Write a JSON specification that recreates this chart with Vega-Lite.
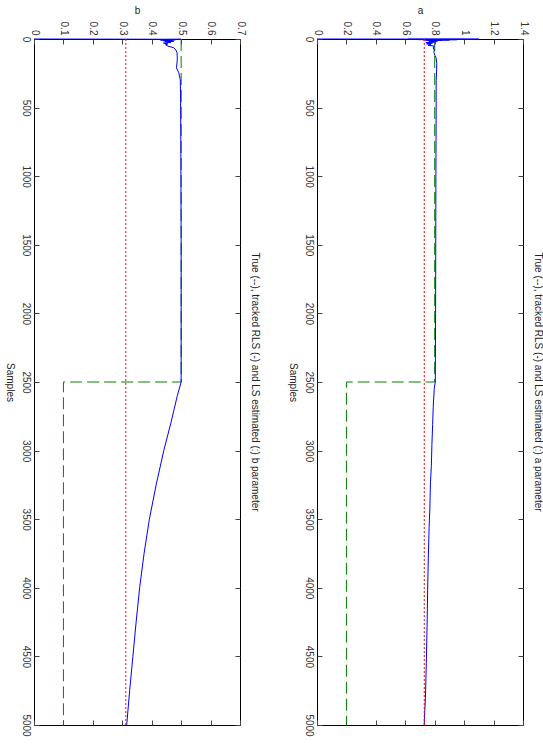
{
  "$schema": "https://vega.github.io/schema/vega-lite/v6.json",
  "background": "white",
  "padding": {"left": 3, "top": 4, "right": 0, "bottom": 0},
  "spacing": 25,
  "config": {
    "font": "Liberation Sans",
    "view": {"stroke": "#000000", "strokeWidth": 1},
    "axis": {
      "labelFont": "Liberation Sans", "labelFontSize": 10, "labelColor": "#333333",
      "titleFont": "Liberation Sans", "titleFontSize": 10, "titleFontWeight": "normal", "titleColor": "#222222",
      "grid": false, "domain": false, "tickColor": "#444444", "tickSize": -5, "labelPadding": 9,
      "labelFlush": false, "labelOverlap": false
    },
    "title": {"font": "Liberation Sans", "fontSize": 10, "fontWeight": "normal", "color": "#222222"}
  },
  "datasets": {
    "b_true": [{"order":0,"sample":0,"value":0.5},{"order":1,"sample":2500,"value":0.5},{"order":2,"sample":2500,"value":0.1},{"order":3,"sample":5000,"value":0.1}],
    "b_ls": [{"order":0,"sample":0,"value":0.312},{"order":1,"sample":5000,"value":0.312}],
    "b_rls": [
      {"order":0,"sample":0,"value":0},{"order":1,"sample":2,"value":0.5},{"order":2,"sample":4,"value":0.44},{"order":3,"sample":6,"value":0.48},
      {"order":4,"sample":8,"value":0.43},{"order":5,"sample":10,"value":0.47},{"order":6,"sample":13,"value":0.44},{"order":7,"sample":16,"value":0.475},
      {"order":8,"sample":20,"value":0.445},{"order":9,"sample":25,"value":0.465},{"order":10,"sample":30,"value":0.44},{"order":11,"sample":36,"value":0.455},
      {"order":12,"sample":42,"value":0.447},{"order":13,"sample":52,"value":0.455},{"order":14,"sample":64,"value":0.475},{"order":15,"sample":80,"value":0.482},
      {"order":16,"sample":100,"value":0.486},{"order":17,"sample":140,"value":0.487},{"order":18,"sample":175,"value":0.486},{"order":19,"sample":210,"value":0.484},
      {"order":20,"sample":246,"value":0.492},{"order":21,"sample":295,"value":0.497},{"order":22,"sample":400,"value":0.498},{"order":23,"sample":800,"value":0.499},
      {"order":24,"sample":1500,"value":0.5},{"order":25,"sample":2500,"value":0.5},{"order":26,"sample":2600,"value":0.487},{"order":27,"sample":2700,"value":0.476},
      {"order":28,"sample":2800,"value":0.465},{"order":29,"sample":3000,"value":0.441},{"order":30,"sample":3250,"value":0.415},{"order":31,"sample":3500,"value":0.392},
      {"order":32,"sample":3750,"value":0.374},{"order":33,"sample":4000,"value":0.359},{"order":34,"sample":4250,"value":0.347},{"order":35,"sample":4500,"value":0.336},
      {"order":36,"sample":4750,"value":0.325},{"order":37,"sample":5000,"value":0.315}
    ],
    "a_true": [{"order":0,"sample":0,"value":0.8},{"order":1,"sample":2500,"value":0.8},{"order":2,"sample":2500,"value":0.2},{"order":3,"sample":5000,"value":0.2}],
    "a_ls": [{"order":0,"sample":0,"value":0.729},{"order":1,"sample":5000,"value":0.729}],
    "a_rls": [
      {"order":0,"sample":0,"value":0},{"order":1,"sample":1,"value":1.1},{"order":2,"sample":2,"value":0.62},{"order":3,"sample":3,"value":1.0},
      {"order":4,"sample":4,"value":0.68},{"order":5,"sample":5,"value":0.95},{"order":6,"sample":6,"value":0.72},{"order":7,"sample":7,"value":0.9},
      {"order":8,"sample":8,"value":0.74},{"order":9,"sample":10,"value":0.85},{"order":10,"sample":12,"value":0.77},{"order":11,"sample":15,"value":0.82},
      {"order":12,"sample":18,"value":0.76},{"order":13,"sample":22,"value":0.8},{"order":14,"sample":26,"value":0.74},{"order":15,"sample":30,"value":0.785},
      {"order":16,"sample":35,"value":0.745},{"order":17,"sample":40,"value":0.775},{"order":18,"sample":46,"value":0.755},{"order":19,"sample":52,"value":0.797},
      {"order":20,"sample":65,"value":0.79},{"order":21,"sample":80,"value":0.797},{"order":22,"sample":100,"value":0.795},{"order":23,"sample":120,"value":0.802},
      {"order":24,"sample":140,"value":0.81},{"order":25,"sample":180,"value":0.814},{"order":26,"sample":220,"value":0.813},{"order":27,"sample":300,"value":0.81},
      {"order":28,"sample":500,"value":0.81},{"order":29,"sample":1000,"value":0.808},{"order":30,"sample":1500,"value":0.807},{"order":31,"sample":2000,"value":0.806},
      {"order":32,"sample":2500,"value":0.804},{"order":33,"sample":2545,"value":0.797},{"order":34,"sample":2680,"value":0.79},{"order":35,"sample":2810,"value":0.786},
      {"order":36,"sample":2955,"value":0.781},{"order":37,"sample":3115,"value":0.777},{"order":38,"sample":3235,"value":0.771},{"order":39,"sample":3420,"value":0.767},
      {"order":40,"sample":3560,"value":0.762},{"order":41,"sample":3760,"value":0.757},{"order":42,"sample":4010,"value":0.752},{"order":43,"sample":4280,"value":0.748},
      {"order":44,"sample":4550,"value":0.743},{"order":45,"sample":4800,"value":0.737},{"order":46,"sample":4950,"value":0.73},{"order":47,"sample":5000,"value":0.729}
    ]
  },
  "hconcat": [
    {
      "width": 206, "height": 686,
      "title": {"text": "True (--), tracked RLS (-) and LS estimated (:) b parameter", "orient": "right", "angle": 90, "baseline": "bottom", "offset": -5, "anchor": "middle"},
      "encoding": {
        "x": {"field": "value", "type": "quantitative", "scale": {"domain": [0, 0.7], "nice": false, "zero": false}, "axis": null},
        "y": {"field": "sample", "type": "quantitative", "scale": {"domain": [0, 5000], "reverse": true, "nice": false}, "axis": null},
        "order": {"field": "order", "type": "quantitative"}
      },
      "layer": [
        {"data": {"name": "b_true"}, "mark": {"type": "line", "color": "#008000", "strokeWidth": 1, "strokeDash": [12, 5]},
         "encoding": {
           "x": {"field": "value", "type": "quantitative", "axis": {"orient": "top", "title": "b", "titleAngle": 0, "titlePadding": 6, "values": [0, 0.1, 0.2, 0.3, 0.4, 0.5, 0.6, 0.7], "format": "~g", "labelAngle": 90, "labelAlign": "right", "labelBaseline": "middle"}},
           "y": {"field": "sample", "type": "quantitative", "axis": {"orient": "left", "title": "Samples", "titleAngle": 90, "titleBaseline": "top", "titlePadding": 6, "values": [0, 500, 1000, 1500, 2000, 2500, 3000, 3500, 4000, 4500, 5000], "format": "d", "labelAngle": 90, "labelAlign": "center", "labelBaseline": "top"}}
         }},
        {"data": {"name": "b_rls"}, "mark": {"type": "line", "color": "#0000ff", "strokeWidth": 1}},
        {"data": {"name": "b_ls"}, "mark": {"type": "line", "color": "#ff0000", "strokeWidth": 1, "strokeDash": [2, 2]}},
        {"data": {"name": "b_ls"}, "mark": {"type": "point", "opacity": 0},
         "encoding": {
           "x": {"field": "value", "type": "quantitative", "axis": {"orient": "bottom", "labels": false, "title": null, "values": [0, 0.1, 0.2, 0.3, 0.4, 0.5, 0.6, 0.7]}},
           "y": {"field": "sample", "type": "quantitative", "axis": {"orient": "right", "labels": false, "title": null, "values": [0, 500, 1000, 1500, 2000, 2500, 3000, 3500, 4000, 4500, 5000]}}
         }}
      ],
      "resolve": {"axis": {"x": "independent", "y": "independent"}}
    },
    {
      "width": 206, "height": 686,
      "title": {"text": "True (--), tracked RLS (-) and LS estimated (:) a parameter", "orient": "right", "angle": 90, "baseline": "bottom", "offset": -5, "anchor": "middle"},
      "encoding": {
        "x": {"field": "value", "type": "quantitative", "scale": {"domain": [0, 1.4], "nice": false, "zero": false}, "axis": null},
        "y": {"field": "sample", "type": "quantitative", "scale": {"domain": [0, 5000], "reverse": true, "nice": false}, "axis": null},
        "order": {"field": "order", "type": "quantitative"}
      },
      "layer": [
        {"data": {"name": "a_true"}, "mark": {"type": "line", "color": "#008000", "strokeWidth": 1, "strokeDash": [12, 5]},
         "encoding": {
           "x": {"field": "value", "type": "quantitative", "axis": {"orient": "top", "title": "a", "titleAngle": 0, "titlePadding": 6, "values": [0, 0.2, 0.4, 0.6, 0.8, 1, 1.2, 1.4], "format": "~g", "labelAngle": 90, "labelAlign": "right", "labelBaseline": "middle"}},
           "y": {"field": "sample", "type": "quantitative", "axis": {"orient": "left", "title": "Samples", "titleAngle": 90, "titleBaseline": "top", "titlePadding": 6, "values": [0, 500, 1000, 1500, 2000, 2500, 3000, 3500, 4000, 4500, 5000], "format": "d", "labelAngle": 90, "labelAlign": "center", "labelBaseline": "top"}}
         }},
        {"data": {"name": "a_rls"}, "mark": {"type": "line", "color": "#0000ff", "strokeWidth": 1}},
        {"data": {"name": "a_ls"}, "mark": {"type": "line", "color": "#ff0000", "strokeWidth": 1, "strokeDash": [2, 2]}},
        {"data": {"name": "a_ls"}, "mark": {"type": "point", "opacity": 0},
         "encoding": {
           "x": {"field": "value", "type": "quantitative", "axis": {"orient": "bottom", "labels": false, "title": null, "values": [0, 0.2, 0.4, 0.6, 0.8, 1, 1.2, 1.4]}},
           "y": {"field": "sample", "type": "quantitative", "axis": {"orient": "right", "labels": false, "title": null, "values": [0, 500, 1000, 1500, 2000, 2500, 3000, 3500, 4000, 4500, 5000]}}
         }}
      ],
      "resolve": {"axis": {"x": "independent", "y": "independent"}}
    }
  ]
}
